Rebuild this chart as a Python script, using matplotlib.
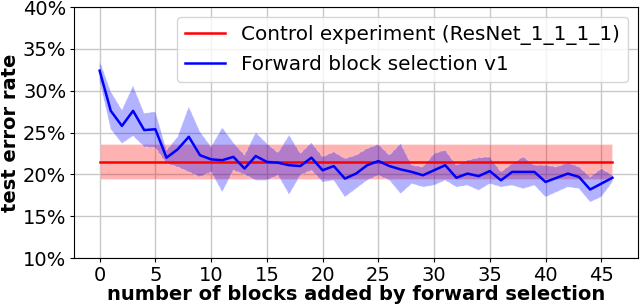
import numpy as np
from matplotlib import pyplot as plt
from matplotlib.ticker import FuncFormatter

# number of blocks added (0..46)
blocks = np.arange(47)

# forward block selection v1: mean and band (test error, %)
fwd_mean = [32.4, 27.6, 25.8, 27.6, 25.3, 25.4, 22.0, 23.0, 24.5, 22.3,
            21.8, 21.7, 22.1, 20.7, 22.2, 21.5, 21.4, 21.1, 21.0, 22.0,
            20.5, 21.0, 19.5, 20.1, 21.1, 21.6, 21.0, 20.6, 20.3, 19.9,
            20.5, 21.1, 19.6, 20.1, 19.8, 20.4, 19.3, 20.3, 20.3, 20.3,
            19.1, 19.6, 20.1, 19.7, 18.2, 18.9, 19.6]
fwd_upper = [33.6, 29.9, 27.7, 30.6, 27.3, 27.5, 22.9, 24.5, 28.1, 25.1,
             23.3, 25.6, 23.8, 22.3, 25.0, 23.7, 22.6, 24.7, 22.5, 23.8,
             22.1, 22.7, 21.9, 22.3, 23.1, 23.6, 22.3, 23.7, 21.1, 20.9,
             22.5, 22.9, 21.1, 21.7, 22.0, 22.1, 20.3, 21.3, 22.1, 21.1,
             21.1, 20.9, 21.4, 20.9, 19.7, 20.7, 19.9]
fwd_lower = [31.2, 25.4, 23.7, 24.6, 23.3, 23.2, 21.3, 20.9, 20.3, 19.7,
             20.3, 17.9, 20.5, 20.0, 19.3, 19.3, 19.9, 17.6, 19.9, 20.5,
             19.1, 19.3, 17.3, 18.3, 19.3, 19.9, 19.3, 17.7, 18.9, 18.5,
             18.7, 19.3, 18.5, 18.7, 18.1, 18.9, 18.5, 18.7, 18.3, 18.7,
             17.3, 17.9, 18.5, 18.3, 16.7, 17.3, 19.1]

# control experiment (ResNet_1_1_1_1)
ctrl_mean = 21.5
ctrl_lower = 19.4
ctrl_upper = 23.6

fig = plt.figure(figsize=(6.4, 3.08), dpi=100)
ax = fig.add_axes([0.1156, 0.162, 0.8814, 0.815])

ctrl_x = [blocks[0], blocks[-1]]
ax.fill_between(ctrl_x, [ctrl_lower] * 2, [ctrl_upper] * 2, color='red', alpha=0.3,
                edgecolor='white', linewidth=0.8)
ax.plot(ctrl_x, [ctrl_mean] * 2, color='red', lw=1.8,
        label='Control experiment (ResNet_1_1_1_1)')

ax.fill_between(blocks, fwd_lower, fwd_upper, color='blue', alpha=0.3,
                edgecolor='white', linestyle='--', linewidth=0.8)
ax.plot(blocks, fwd_mean, color='blue', lw=1.8, label='Forward block selection v1')

ax.set_xlim(-2.3, 48.3)
ax.set_ylim(10, 40)
ax.set_xticks(np.arange(0, 46, 5))
ax.set_yticks(np.arange(10, 41, 5))
ax.yaxis.set_major_formatter(FuncFormatter(lambda v, p: '%d%%' % v))
ax.tick_params(labelsize=14, length=3, pad=2.5)
ax.grid(color='#c8c8c8', lw=1)
ax.set_axisbelow(True)

ax.set_xlabel('number of blocks added by forward selection', fontsize=14,
              fontweight='bold', labelpad=0)
ax.set_ylabel('test error rate', fontsize=14, fontweight='bold', labelpad=2)
ax.legend(loc='upper right', fontsize=14.4, borderaxespad=0.5)

fig.savefig('out.png')
